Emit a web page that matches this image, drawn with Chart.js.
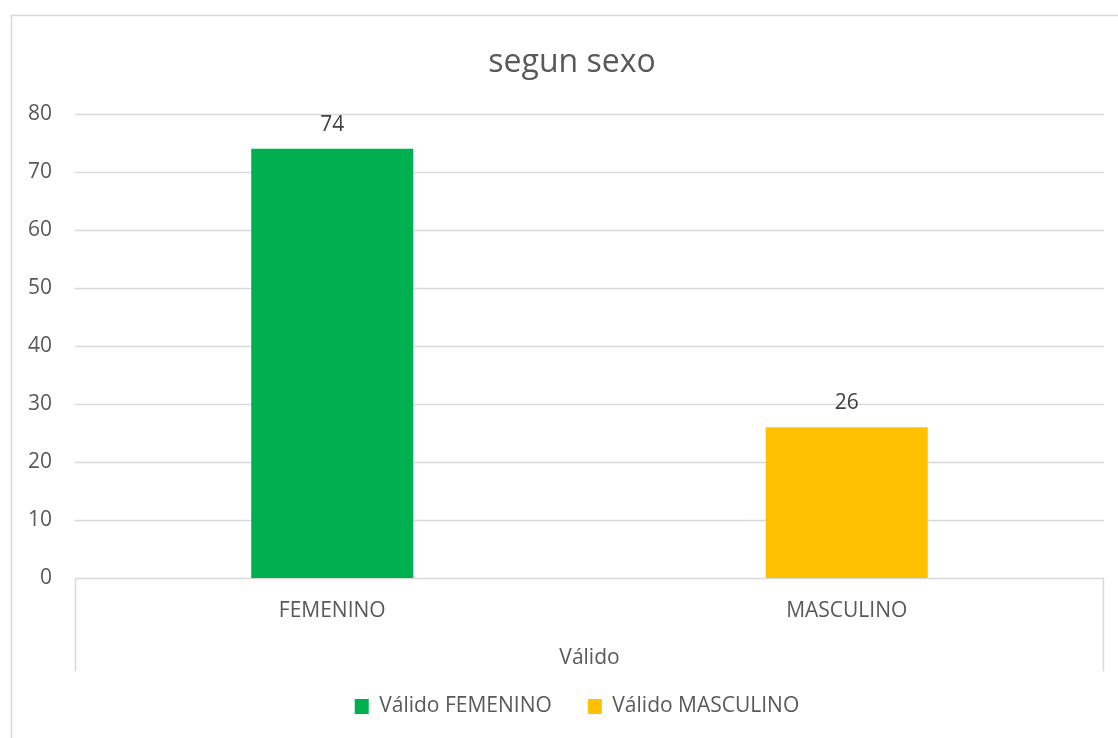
<!DOCTYPE html>
<html>
<head>
<meta charset="utf-8">
<script src="https://cdn.jsdelivr.net/npm/chart.js@4.4.1/dist/chart.umd.min.js"></script>
<style>
html,body{margin:0;padding:0;background:#fff;overflow:hidden;}
#c{display:block;}
</style>
</head>
<body>
<canvas id="c" width="1118" height="738"></canvas>
<script>
const categories = ['FEMENINO', 'MASCULINO'];
const groupLabel = 'Válido';
const seriesNames = ['Válido FEMENINO', 'Válido MASCULINO'];
const femeninoValues = [74, null];
const masculinoValues = [null, 26];
const seriesColors = ['#00B050', '#FFC000'];
const yTicks = [0, 10, 20, 30, 40, 50, 60, 70, 80];
const chartTitle = 'segun sexo';

const FONT = '"Open Sans", sans-serif';
const TXT = '#595959';
const LINE = '#d9d9d9';

const decor = {
  id: 'decor',
  afterLayout(chart) {
    if (chart.legend) { chart.legend.left += 25; chart.legend.right += 25; }
  },
  beforeDraw(chart) {
    const ctx = chart.ctx;
    ctx.save();
    ctx.fillStyle = '#fff';
    ctx.fillRect(0, 0, chart.width, chart.height);
    ctx.strokeStyle = LINE;
    ctx.lineWidth = 1.5;
    ctx.strokeRect(11.5, 15.5, 1300, 1000);
    ctx.restore();
  },
  beforeDatasetsDraw(chart) {
    const ctx = chart.ctx;
    const a = chart.chartArea;
    const y = chart.scales.y;
    ctx.save();
    ctx.strokeStyle = LINE;
    ctx.lineWidth = 1.5;
    ctx.beginPath();
    y.ticks.forEach(t => {
      const py = Math.round(y.getPixelForValue(t.value)) + 0.5;
      ctx.moveTo(a.left, py); ctx.lineTo(a.right, py);
    });
    const pb = Math.round(a.bottom) + 0.5;
    ctx.moveTo(a.left + 0.5, pb); ctx.lineTo(a.left + 0.5, pb + 93);
    ctx.moveTo(a.right - 0.5, pb); ctx.lineTo(a.right - 0.5, pb + 93);
    ctx.stroke();
    ctx.restore();
  },
  afterDraw(chart) {
    const ctx = chart.ctx;
    const a = chart.chartArea;
    ctx.save();
    ctx.fillStyle = TXT;
    ctx.textAlign = 'center';
    ctx.textBaseline = 'alphabetic';
    ctx.font = '32px ' + FONT;
    ctx.fillText(chartTitle, 572, 72);
    ctx.textBaseline = 'middle';
    ctx.font = '21px ' + FONT;
    ctx.fillText(groupLabel, (a.left + a.right) / 2, a.bottom + 80);
    ctx.fillStyle = '#404040';
    chart.data.datasets.forEach((ds, i) => {
      const meta = chart.getDatasetMeta(i);
      meta.data.forEach((bar, j) => {
        const v = ds.data[j];
        if (v == null) return;
        ctx.fillText(String(v), bar.x, bar.y - 24);
      });
    });
    ctx.restore();
  }
};

new Chart(document.getElementById('c'), {
  type: 'bar',
  data: {
    labels: categories,
    datasets: [
      { label: seriesNames[0], data: femeninoValues, backgroundColor: seriesColors[0] },
      { label: seriesNames[1], data: masculinoValues, backgroundColor: seriesColors[1] }
    ]
  },
  options: {
    responsive: false,
    animation: false,
    skipNull: true,
    categoryPercentage: 0.315,
    barPercentage: 1,
    layout: { padding: { left: 0, right: 14, top: 114, bottom: 11 } },
    plugins: {
      title: { display: false },
      tooltip: { enabled: false },
      legend: {
        position: 'bottom',
        labels: {
          font: { family: FONT, size: 21 },
          color: TXT,
          boxWidth: 14,
          boxHeight: 15,
          padding: 36
        }
      }
    },
    scales: {
      x: {
        grid: { display: false, drawTicks: false },
        border: { display: false },
        ticks: { color: TXT, font: { family: FONT, size: 21 }, padding: 20 },
        afterFit(s) { s.height = 82; }
      },
      y: {
        min: 0, max: 80,
        afterBuildTicks(s) { s.ticks = yTicks.map(v => ({ value: v })); },
        grid: { display: false, drawTicks: false },
        border: { display: false },
        ticks: { color: TXT, font: { family: FONT, size: 21 }, padding: 23 },
        afterFit(s) { s.width = 75; }
      }
    }
  },
  plugins: [decor]
});
</script>
</body>
</html>
